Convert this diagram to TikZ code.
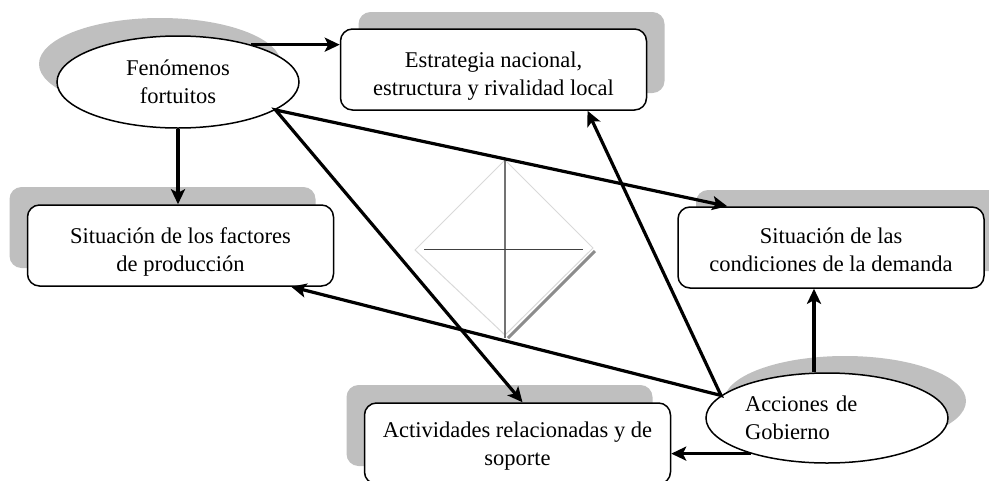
\documentclass[tikz,border=0pt]{standalone}
\usepackage{fontspec}
\setmainfont{Liberation Serif}
\usetikzlibrary{shapes.geometric, arrows.meta, positioning, calc, shadows}

\begin{document}
\begin{tikzpicture}[
  x=1pt, y=-1pt,
  font=\fontsize{22.5}{28}\selectfont,
  factorbox/.style={rectangle, rounded corners=12pt, draw=black, fill=white, line width=1.5pt, minimum width=306pt, minimum height=81pt, inner sep=0pt, align=center},
  eventell/.style={ellipse, draw=black, fill=white, line width=1.5pt, minimum width=242pt, minimum height=92pt, inner sep=0pt},
  shadowul/.style={drop shadow={shadow xshift=-18pt, shadow yshift=18pt, fill=black!25, opacity=1}},
  shadowur/.style={drop shadow={shadow xshift=18pt, shadow yshift=17pt, fill=black!25, opacity=1}},
  linkarrow/.style={-{Stealth[length=15pt, width=14pt, inset=3.5pt]}, line width=3.2pt},
  twoarrow/.style={{Stealth[length=15pt, width=14pt, inset=3.5pt]}-{Stealth[length=15pt, width=14pt, inset=3.5pt]}, line width=3.2pt}
]
\useasboundingbox (0,0) rectangle (989,480);

% Central diamond
\draw[black!15, line width=1pt] (505,160) -- (593,248) -- (505,335) -- (415,250) -- cycle;
\draw[black!45, line width=3pt] (595,251) -- (508,338);
\draw[black!55, line width=1.6pt] (505,160) -- (505,338);
\draw[black!75, line width=1pt] (424,249) -- (583,249);

% Determinants
\node[eventell, shadowul, align=center] (fen) at (178,82) {Fenómenos\\fortuitos};
\node[factorbox, shadowur] (est) at (493.5,69.5) {\rule{0pt}{29pt}Estrategia nacional,\\estructura y rivalidad local};
\node[factorbox, shadowul] (fac) at (180.5,245.5) {\rule{0pt}{29pt}Situación de los factores\\de producción};
\node[factorbox, shadowur] (dem) at (831,247.5) {\rule{0pt}{21pt}Situación de las\\condiciones de la demanda};
\node[factorbox, shadowul] (act) at (517.5,443.5) {\rule{0pt}{21pt}Actividades relacionadas y de\\soporte};
\node[eventell, shadowur, minimum height=90pt, text width=164pt, align=left] (acc) at (827,418) {Acciones de\\Gobierno};

% Links from chance events
\draw[linkarrow] (fen.27) -- (fen.27 -| est.west);
\draw[linkarrow] (fen.south) -- (fen.south |- fac.north);
\draw[twoarrow] ([xshift=50pt]dem.north west) -- (fen.-16) -- ([xshift=5pt]act.north);

% Links from government
\draw[twoarrow] ([xshift=94pt]est.south) -- (acc.168) -- ([xshift=-43pt]fac.south east);
\draw[linkarrow] ([xshift=-13pt]acc.north) -- ([xshift=-13pt]acc.north |- dem.south);
\draw[linkarrow] (acc.205) -- (acc.205 -| act.east);

\end{tikzpicture}
\end{document}
